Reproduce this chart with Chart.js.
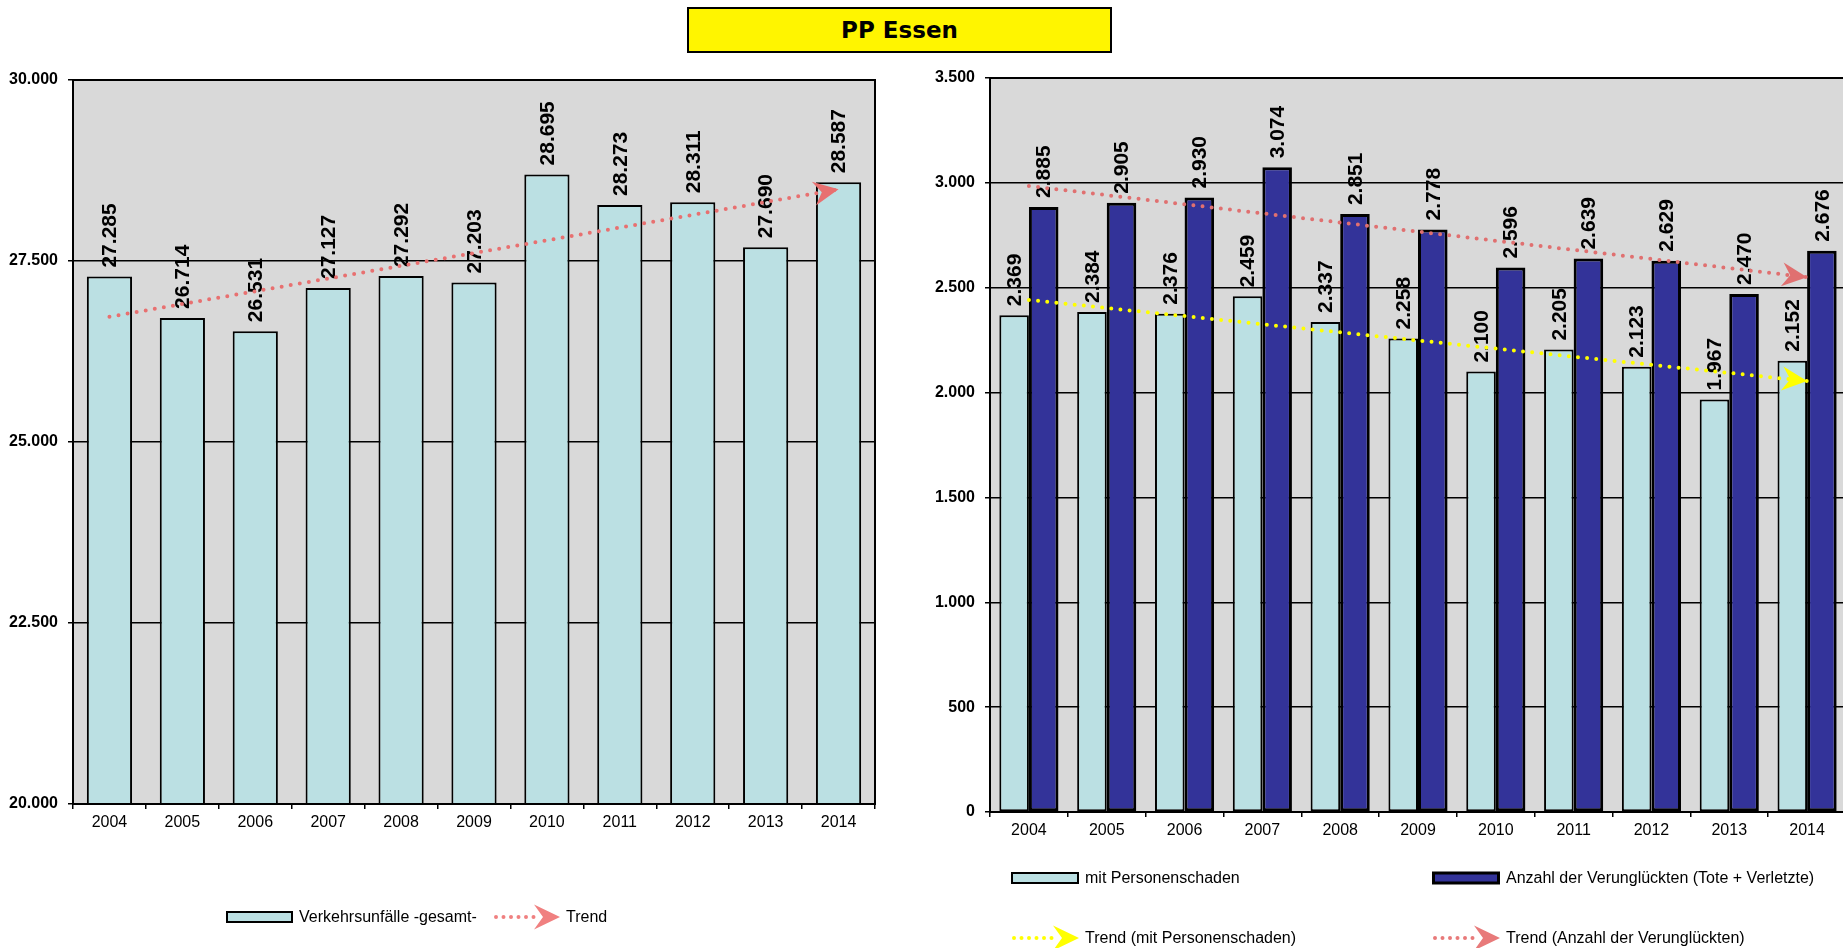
<!DOCTYPE html>
<html><head><meta charset="utf-8">
<script src="https://cdn.jsdelivr.net/npm/chart.js@4/dist/chart.umd.min.js"></script>
<style>
html,body{margin:0;padding:0;background:#fff;width:1843px;height:948px;overflow:hidden;position:relative;font-family:'Liberation Sans',Arial,sans-serif;}
#title{position:absolute;left:687px;top:7px;width:425px;height:46px;box-sizing:border-box;border:2px solid #000;background:#FFF500;font:bold 23px 'DejaVu Sans',Verdana,sans-serif;text-align:center;line-height:42px;color:#000;}
canvas{position:absolute;top:0}
.lg{position:absolute;font-size:16px;white-space:nowrap;display:flex;align-items:center;height:26px;color:#000}
.lg svg{margin-right:6px;flex:none}
</style></head><body>
<div id="title">PP Essen</div>
<canvas id="c1" width="900" height="948" style="left:0"></canvas>
<canvas id="c2" width="980" height="948" style="left:880px"></canvas>

<div class="lg" style="left:226px;top:904px"><svg width="67" height="26"><rect x="1" y="8" width="65" height="10" fill="#BBE0E3" stroke="#000" stroke-width="2"/></svg>Verkehrsunfälle -gesamt-</div>
<div class="lg" style="left:493px;top:904px"><svg width="67" height="26"><line x1="3" y1="13" x2="44" y2="13" stroke="#F08080" stroke-width="4" stroke-linecap="round" stroke-dasharray="0 7.5"/><path d="M67,13 L41,0.5 L50,13 L41,25.5 Z" fill="#F08080"/></svg>Trend</div>

<div class="lg" style="left:1011px;top:865px"><svg width="68" height="26"><rect x="1" y="8" width="66" height="10" fill="#BBE0E3" stroke="#000" stroke-width="2"/></svg>mit Personenschaden</div>
<div class="lg" style="left:1432px;top:865px"><svg width="68" height="26"><rect x="1.5" y="8" width="65" height="10" fill="#333399" stroke="#000" stroke-width="3"/></svg>Anzahl der Verunglückten (Tote + Verletzte)</div>
<div class="lg" style="left:1011px;top:925px"><svg width="68" height="26"><line x1="3" y1="13" x2="45" y2="13" stroke="#FFFF00" stroke-width="4" stroke-linecap="round" stroke-dasharray="0 7.5"/><path d="M68,13 L42,0.5 L51,13 L42,25.5 Z" fill="#FFFF00"/></svg>Trend (mit Personenschaden)</div>
<div class="lg" style="left:1432px;top:925px"><svg width="68" height="26"><line x1="3" y1="13" x2="45" y2="13" stroke="#E87A7A" stroke-width="4" stroke-linecap="round" stroke-dasharray="0 7.5"/><path d="M68,13 L42,0.5 L51,13 L42,25.5 Z" fill="#E87A7A"/></svg>Trend (Anzahl der Verunglückten)</div>

<script>
// ---- data ----
const years = ['2004','2005','2006','2007','2008','2009','2010','2011','2012','2013','2014'];
const unfaelleGesamt = [27285, 26714, 26531, 27127, 27292, 27203, 28695, 28273, 28311, 27690, 28587];
const trendGesamt = [26730, null, null, null, null, null, null, null, null, null, 28490];

const mitPersonenschaden = [2369, 2384, 2376, 2459, 2337, 2258, 2100, 2205, 2123, 1967, 2152];
const verunglueckte = [2885, 2905, 2930, 3074, 2851, 2778, 2596, 2639, 2629, 2470, 2676];
const trendPersonenschaden = [2442, null, null, null, null, null, null, null, null, null, 2055];
const trendVerunglueckte = [2985, null, null, null, null, null, null, null, null, null, 2550];

const leftTicks = {min: 20000, max: 30000, step: 2500};
const rightTicks = {min: 0, max: 3500, step: 500};

// ---- helpers ----
const FAM = "'Liberation Sans', Arial, sans-serif";
const fmt = v => String(Math.round(v)).replace(/\B(?=(\d{3})+(?!\d))/g, '.');

const plotFrame = {
  id: 'plotFrame',
  beforeDraw(chart) {
    const {ctx, chartArea: a} = chart;
    ctx.save();
    ctx.fillStyle = '#D9D9D9';
    ctx.fillRect(a.left, a.top, a.right - a.left, a.bottom - a.top);
    ctx.restore();
  },
  afterDraw(chart) {
    const {ctx, chartArea: a} = chart;
    ctx.save();
    ctx.strokeStyle = '#000';
    ctx.lineWidth = 2;
    ctx.strokeRect(a.left, a.top, a.right - a.left, a.bottom - a.top);
    ctx.restore();
  }
};

const barLabels = {
  id: 'barLabels',
  afterDatasetDraw(chart, args) {
    const meta = args.meta;
    if (meta.type !== 'bar') return;
    const ds = chart.data.datasets[args.index];
    const ctx = chart.ctx;
    ctx.save();
    ctx.font = 'bold 21px ' + FAM;
    ctx.fillStyle = '#000';
    ctx.textAlign = 'left';
    ctx.textBaseline = 'middle';
    meta.data.forEach((el, i) => {
      ctx.save();
      ctx.translate(el.x + 1, el.y - 9);
      ctx.rotate(-Math.PI / 2);
      ctx.fillText(fmt(ds.data[i]), 0, 0);
      ctx.restore();
    });
    ctx.restore();
  }
};

const arrowHeads = {
  id: 'arrowHeads',
  afterDatasetDraw(chart, args) {
    const ds = chart.data.datasets[args.index];
    if (!ds.trendArrow) return;
    const pts = args.meta.data.filter((p, i) => ds.data[i] != null);
    if (pts.length < 2) return;
    const a = pts[pts.length - 2], b = pts[pts.length - 1];
    const ang = Math.atan2(b.y - a.y, b.x - a.x);
    const ctx = chart.ctx;
    ctx.save();
    ctx.translate(b.x, b.y);
    ctx.rotate(ang);
    ctx.beginPath();
    ctx.moveTo(0, 0);
    ctx.lineTo(-25, -12);
    ctx.lineTo(-17, 0);
    ctx.lineTo(-25, 12);
    ctx.closePath();
    ctx.fillStyle = ds.trendArrow;
    ctx.fill();
    ctx.restore();
  }
};

function trendDataset(data, color) {
  return {
    type: 'line', data, order: 0, spanGaps: true,
    borderColor: color, borderWidth: 4, borderCapStyle: 'round',
    borderDash: [0, 9.2], pointRadius: 0, fill: false, tension: 0,
    trendArrow: color
  };
}

function makeScales(t, yWidth) {
  return {
    x: {
      grid: {display: true, drawOnChartArea: false, drawTicks: true, tickLength: 5, color: '#000', lineWidth: 1.5, offset: true},
      border: {display: true, color: '#000', width: 2},
      ticks: {color: '#000', font: {size: 16, family: FAM}, padding: 4, maxRotation: 0, autoSkip: false},
      afterFit(s) { s.height = 40; }
    },
    y: {
      min: t.min, max: t.max,
      ticks: {stepSize: t.step, callback: v => fmt(v), color: '#000', font: {size: 16, weight: 'bold', family: FAM}, padding: 10},
      grid: {color: '#000', lineWidth: 1.5, tickLength: 5},
      border: {display: true, color: '#000', width: 2},
      afterFit(s) { s.width = yWidth; }
    }
  };
}

const common = {
  responsive: false, animation: false, devicePixelRatio: 1,
  plugins: {legend: {display: false}, tooltip: {enabled: false}}
};

new Chart(document.getElementById('c1'), {
  type: 'bar',
  data: {
    labels: years,
    datasets: [
      {label: 'Verkehrsunfälle -gesamt-', data: unfaelleGesamt, order: 1,
       backgroundColor: '#BBE0E3', borderColor: '#000', borderWidth: 2, borderSkipped: false,
       categoryPercentage: 0.62, barPercentage: 1},
      Object.assign(trendDataset(trendGesamt, '#E87070'), {label: 'Trend'})
    ]
  },
  options: Object.assign({}, common, {
    layout: {padding: {top: 80, right: 25, left: 0, bottom: 104}},
    scales: makeScales(leftTicks, 73)
  }),
  plugins: [plotFrame, barLabels, arrowHeads]
});

new Chart(document.getElementById('c2'), {
  type: 'bar',
  data: {
    labels: years,
    datasets: [
      {label: 'mit Personenschaden', data: mitPersonenschaden, order: 1,
       backgroundColor: '#BBE0E3', borderColor: '#000', borderWidth: 2, borderSkipped: false,
       categoryPercentage: 0.76, barPercentage: 1},
      {label: 'Anzahl der Verunglückten (Tote + Verletzte)', data: verunglueckte, order: 1,
       backgroundColor: '#333399', borderColor: '#000', borderWidth: 3, borderSkipped: false,
       categoryPercentage: 0.76, barPercentage: 1},
      Object.assign(trendDataset(trendPersonenschaden, '#FFFF00'), {label: 'Trend (mit Personenschaden)'}),
      Object.assign(trendDataset(trendVerunglueckte, '#E07070'), {label: 'Trend (Anzahl der Verunglückten)'})
    ]
  },
  options: Object.assign({}, common, {
    layout: {padding: {top: 78, right: 14, left: 0, bottom: 96}},
    scales: makeScales(rightTicks, 110)
  }),
  plugins: [plotFrame, barLabels, arrowHeads]
});
</script>
</body></html>
